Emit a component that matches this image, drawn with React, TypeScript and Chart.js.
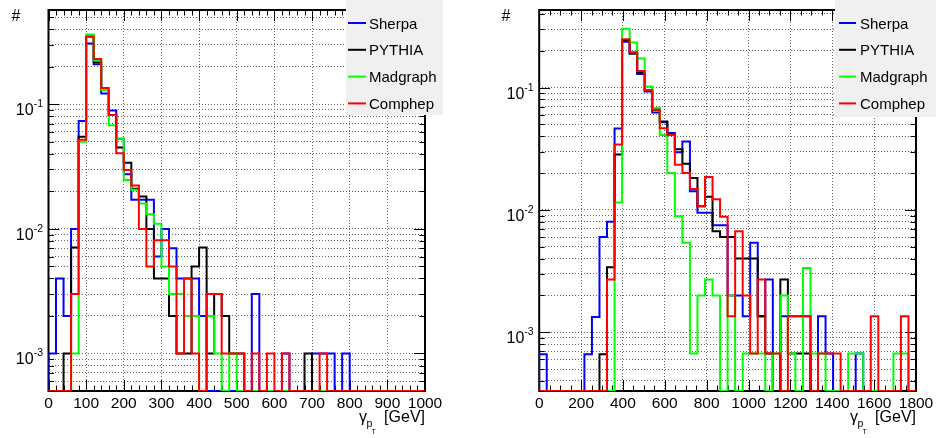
import React, { useEffect, useRef } from 'react';
import { Chart, registerables } from 'chart.js';

Chart.register(...registerables);

const SERIES_NAMES = ['Sherpa', 'PYTHIA', 'Madgraph', 'Comphep'];
const SERIES_COLORS = ['#0000ff', '#000000', '#00ff00', '#ff0000'];
const SERIES_ORDER = [3, 2, 1, 0];

// ---------- left panel: 50 bins of 20 GeV ----------
const LEFT_BIN_WIDTH = 20;
const LEFT_X_TICKS = [0, 100, 200, 300, 400, 500, 600, 700, 800, 900, 1000];
const leftSherpa = [
  0.001, 0.004, 0.002, 0.01, 0.0735, 0.307, 0.21, 0.122, 0.089, 0.053,
  0.0274, 0.0171, 0.0171, 0.0171, 0.006, 0.01, 0.007, 0.004, 0.004, 0.004,
  0.002, 0, 0, 0, 0, 0, 0, 0.003, 0, 0,
  0, 0.001, 0, 0, 0, 0.001, 0.001, 0.001, 0, 0.001,
  0, 0, 0, 0, 0, 0, 0, 0, 0, 0,
];
const leftPythia = [
  0, 0, 0.001, 0.0071, 0.055, 0.35, 0.217, 0.13, 0.082, 0.045,
  0.034, 0.021, 0.0182, 0.01, 0.004, 0.004, 0.002, 0.001, 0.001, 0.005,
  0.0071, 0.001, 0.003, 0.002, 0.001, 0.001, 0, 0, 0, 0,
  0, 0, 0, 0, 0.001, 0, 0, 0, 0, 0,
  0, 0, 0, 0, 0, 0, 0, 0, 0, 0,
];
const leftMadgraph = [
  0, 0, 0, 0.001, 0.05, 0.363, 0.225, 0.13, 0.068, 0.053,
  0.0247, 0.0206, 0.016, 0.0131, 0.011, 0.005, 0.003, 0.003, 0.002, 0.002,
  0, 0.002, 0.001, 0, 0.001, 0, 0, 0, 0, 0,
  0, 0, 0, 0, 0, 0, 0, 0, 0, 0,
  0, 0, 0, 0, 0, 0, 0, 0, 0, 0,
];
const leftComphep = [
  0, 0, 0, 0.003, 0.052, 0.349, 0.231, 0.135, 0.082, 0.0404,
  0.0297, 0.0223, 0.01, 0.005, 0.0081, 0.0081, 0.005, 0.001, 0.004, 0.001,
  0, 0.003, 0.003, 0.001, 0.001, 0.001, 0, 0.001, 0, 0.001,
  0, 0.001, 0, 0, 0, 0, 0.001, 0, 0, 0,
  0, 0, 0, 0, 0, 0, 0, 0, 0, 0,
];

// ---------- right panel: 50 bins of 36 GeV ----------
const RIGHT_BIN_WIDTH = 36;
const RIGHT_X_TICKS = [0, 200, 400, 600, 800, 1000, 1200, 1400, 1600, 1800];
const rightSherpa = [
  0.00066, 0, 0, 0, 0, 0, 0.00066, 0.00133, 0.006, 0.008,
  0.0464, 0.237, 0.19, 0.129, 0.093, 0.0626, 0.052, 0.0425, 0.0296, 0.0363,
  0.0142, 0.0095, 0.0095, 0.0075, 0.0075, 0.002, 0.002, 0.00135, 0.0054, 0.00135,
  0.0027, 0, 0.00135, 0.00135, 0.00135, 0.00135, 0, 0.00135, 0.00067, 0,
  0, 0, 0.00067, 0, 0, 0, 0, 0, 0, 0,
];
const rightPythia = [
  0, 0, 0, 0, 0, 0, 0, 0, 0.00066, 0.0034,
  0.0284, 0.245, 0.19, 0.133, 0.095, 0.066, 0.0528, 0.041, 0.0314, 0.0239,
  0.0182, 0.0107, 0.0128, 0.0067, 0.006, 0.006, 0.004, 0.004, 0.004, 0.00135,
  0.00067, 0, 0.0027, 0.00067, 0.00067, 0.00067, 0, 0, 0, 0,
  0, 0, 0, 0, 0, 0, 0, 0, 0, 0,
];
const rightMadgraph = [
  0, 0, 0, 0, 0, 0, 0, 0, 0, 0,
  0.0115, 0.303, 0.234, 0.173, 0.102, 0.068, 0.041, 0.02, 0.0089, 0.0054,
  0.00067, 0.002, 0.0027, 0.002, 0, 0.002, 0, 0.00067, 0.00067, 0.00067,
  0, 0.00067, 0.002, 0.00067, 0, 0.00335, 0.00067, 0.00067, 0, 0,
  0, 0.00067, 0.00067, 0, 0, 0, 0, 0.00067, 0.00067, 0,
];
const rightComphep = [
  0, 0, 0, 0, 0, 0, 0, 0, 0, 0.0027,
  0.0342, 0.249, 0.195, 0.137, 0.0957, 0.0658, 0.0466, 0.041, 0.0234, 0.02,
  0.0148, 0.0107, 0.0186, 0.0122, 0.0088, 0.00135, 0.0067, 0.002, 0.00067, 0.0027,
  0.00067, 0.00067, 0, 0.00135, 0.00135, 0.00135, 0, 0.00067, 0.00067, 0.00067,
  0, 0, 0, 0, 0.00135, 0, 0, 0, 0.00135, 0,
];

const Y_LABEL_EXPONENTS = [-3, -2, -1];
const FONT = '"Liberation Sans", Arial, Helvetica, sans-serif';

type PanelCfg = {
  offsetX: number;
  series: number[][];
  binWidth: number;
  xMax: number;
  xTicks: number[];
  xMinorStep: number;
  yMin: number;
  yMax: number;
  padding: { left: number; right: number; top: number; bottom: number };
  legend: { x0: number; x1: number; y1: number; lineX0: number; lineX1: number; textX: number };
  hashX: number;
};

const W = 468;
const H = 438;

function histPoints(values: number[], binWidth: number, floor: number) {
  const pts: { x: number; y: number }[] = [{ x: 0, y: floor }];
  values.forEach((v, i) => pts.push({ x: i * binWidth, y: v > 0 ? v : floor }));
  pts.push({ x: values.length * binWidth, y: floor });
  return pts;
}

function logGridValues(min: number, max: number) {
  const out: number[] = [];
  for (let e = -5; e <= 1; e++) {
    for (let m = 1; m <= 9; m++) {
      const v = m * Math.pow(10, e);
      if (v >= min * 0.999 && v <= max * 1.001) out.push(v);
    }
  }
  return out;
}

function makePlugin(cfg: PanelCfg) {
  const yGrid = logGridValues(cfg.yMin, cfg.yMax);
  return {
    id: 'rootDecor',
    beforeDatasetsDraw(chart: any) {
      const ctx = chart.ctx;
      const a = chart.chartArea;
      const xs = chart.scales.x;
      const ys = chart.scales.y;
      ctx.save();
      ctx.strokeStyle = '#000';
      ctx.lineWidth = 1;
      ctx.setLineDash([]);
      ctx.beginPath();
      const n = Math.round(cfg.xMax / cfg.xMinorStep);
      for (let i = 0; i <= n; i++) {
        const v = i * cfg.xMinorStep;
        const px = Math.round(xs.getPixelForValue(v)) + 0.5;
        const major = cfg.xTicks.indexOf(v) >= 0;
        const len = major ? 11 : 5.5;
        ctx.moveTo(px, a.bottom);
        ctx.lineTo(px, a.bottom - len);
        ctx.moveTo(px, a.top);
        ctx.lineTo(px, a.top + len);
      }
      yGrid.forEach((v) => {
        const py = Math.round(ys.getPixelForValue(v)) + 0.5;
        const lg = Math.log10(v);
        const major = Math.abs(lg - Math.round(lg)) < 1e-6;
        const len = major ? 11 : 5.5;
        ctx.moveTo(a.left, py);
        ctx.lineTo(a.left + len, py);
        ctx.moveTo(a.right, py);
        ctx.lineTo(a.right - len, py);
      });
      ctx.stroke();
      ctx.lineWidth = 2;
      ctx.strokeRect(a.left, a.top, a.right - a.left, a.bottom - a.top);
      ctx.restore();
    },
    afterDraw(chart: any) {
      const ctx = chart.ctx;
      const a = chart.chartArea;
      const xs = chart.scales.x;
      const ys = chart.scales.y;
      ctx.save();
      ctx.fillStyle = '#000';
      ctx.textBaseline = 'alphabetic';
      // x tick labels
      ctx.font = `15.5px ${FONT}`;
      ctx.textAlign = 'center';
      cfg.xTicks.forEach((v) => ctx.fillText(String(v), xs.getPixelForValue(v), a.bottom + 17));
      // y tick labels 10^e
      Y_LABEL_EXPONENTS.forEach((e) => {
        const py = ys.getPixelForValue(Math.pow(10, e));
        const sup = String(e);
        ctx.textAlign = 'right';
        ctx.font = `10.5px ${FONT}`;
        const sw = ctx.measureText(sup).width;
        ctx.fillText(sup, a.left - 5.5, py + 3);
        ctx.font = `16px ${FONT}`;
        ctx.fillText('10', a.left - 5.5 - sw, py + 11);
      });
      // '#'
      ctx.textAlign = 'left';
      ctx.font = `16px ${FONT}`;
      ctx.fillText('#', cfg.hashX, 20.5);
      // x title
      ctx.font = `16px ${FONT}`;
      ctx.textAlign = 'right';
      ctx.fillText('[GeV]', a.right, a.bottom + 31);
      ctx.textAlign = 'left';
      ctx.fillText('γ', a.right - 66, a.bottom + 31);
      ctx.font = `10.5px ${FONT}`;
      ctx.fillText('p', a.right - 58.5, a.bottom + 36);
      ctx.font = `7px ${FONT}`;
      ctx.fillText('T', a.right - 53.5, a.bottom + 43);
      // legend
      const L = cfg.legend;
      ctx.fillStyle = '#f0f0f0';
      ctx.fillRect(L.x0, 0, L.x1 - L.x0, L.y1);
      ctx.font = `15px ${FONT}`;
      SERIES_NAMES.forEach((name, i) => {
        const cy = 23 + i * 26.8;
        ctx.strokeStyle = SERIES_COLORS[i];
        ctx.lineWidth = 2;
        ctx.beginPath();
        ctx.moveTo(L.lineX0, cy);
        ctx.lineTo(L.lineX1, cy);
        ctx.stroke();
        ctx.fillStyle = '#000';
        ctx.fillText(name, L.textX, cy + 5.5);
      });
      ctx.restore();
    },
  };
}

function Panel({ cfg }: { cfg: PanelCfg }) {
  const ref = useRef<HTMLCanvasElement>(null);
  useEffect(() => {
    const yGrid = logGridValues(cfg.yMin, cfg.yMax);
    const chart = new Chart(ref.current as HTMLCanvasElement, {
      type: 'line',
      data: {
        datasets: cfg.series.map((vals, i) => ({
          label: SERIES_NAMES[i],
          data: histPoints(vals, cfg.binWidth, cfg.yMin),
          borderColor: SERIES_COLORS[i],
          backgroundColor: SERIES_COLORS[i],
          borderWidth: 2,
          pointRadius: 0,
          stepped: 'before',
          fill: false,
          order: SERIES_ORDER[i],
        })),
      },
      options: {
        responsive: false,
        animation: false,
        events: [],
        layout: { padding: cfg.padding },
        plugins: { legend: { display: false }, tooltip: { enabled: false } },
        scales: {
          x: {
            type: 'linear',
            bounds: 'data',
            min: 0,
            max: cfg.xMax,
            ticks: { display: false },
            grid: { color: '#666', lineWidth: 1, drawTicks: false },
            border: { display: false, dash: [1, 2] },
            afterBuildTicks: (s: any) => {
              s.ticks = cfg.xTicks.map((v) => ({ value: v }));
              s.min = 0;
              s.max = cfg.xMax;
            },
          },
          y: {
            type: 'logarithmic',
            bounds: 'data',
            min: cfg.yMin,
            max: cfg.yMax,
            ticks: { display: false },
            grid: { color: '#666', lineWidth: 1, drawTicks: false },
            border: { display: false, dash: [1, 2] },
            afterBuildTicks: (s: any) => {
              s.ticks = yGrid.map((v) => ({ value: v }));
              s.min = cfg.yMin;
              s.max = cfg.yMax;
            },
          },
        },
      } as any,
      plugins: [makePlugin(cfg) as any],
    });
    return () => chart.destroy();
  }, [cfg]);
  return (
    <canvas
      ref={ref}
      width={W}
      height={H}
      style={{ position: 'absolute', left: cfg.offsetX, top: 0, width: W, height: H }}
    />
  );
}

const LEFT_CFG: PanelCfg = {
  offsetX: 0,
  series: [leftSherpa, leftPythia, leftMadgraph, leftComphep],
  binWidth: LEFT_BIN_WIDTH,
  xMax: 1000,
  xTicks: LEFT_X_TICKS,
  xMinorStep: 20,
  yMin: 5e-4,
  yMax: 0.571,
  padding: { left: 48.5, right: 43, top: 10, bottom: 47 },
  legend: { x0: 346, x1: 443, y1: 115, lineX0: 348, lineX1: 366, textX: 369 },
  hashX: 11.5,
};

const RIGHT_CFG: PanelCfg = {
  offsetX: 468,
  series: [rightSherpa, rightPythia, rightMadgraph, rightComphep],
  binWidth: RIGHT_BIN_WIDTH,
  xMax: 1800,
  xTicks: RIGHT_X_TICKS,
  xMinorStep: 50,
  yMin: 3.31e-4,
  yMax: 0.431,
  padding: { left: 71.2, right: 20, top: 10, bottom: 47 },
  legend: { x0: 367, x1: 468, y1: 117, lineX0: 371, lineX1: 388, textX: 392 },
  hashX: 33.5,
};

export default function App() {
  return (
    <div style={{ position: 'fixed', left: 0, top: 0, width: 936, height: 438, background: '#fff' }}>
      <Panel cfg={LEFT_CFG} />
      <Panel cfg={RIGHT_CFG} />
    </div>
  );
}
